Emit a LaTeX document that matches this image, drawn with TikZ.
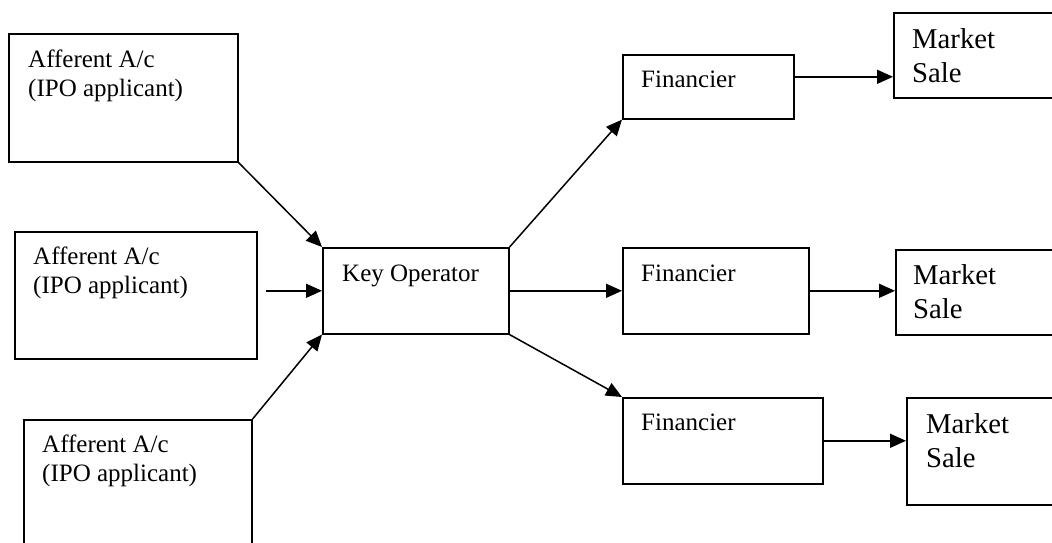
\documentclass[tikz,border=0pt]{standalone}
\usepackage{fontspec}
\setmainfont{Liberation Serif}
\usepackage{tikz}
\usetikzlibrary{arrows.meta,calc,positioning}

\begin{document}
\begin{tikzpicture}[x=1pt,y=-1pt,
    box/.style={draw,line width=1.6pt,inner sep=0pt,anchor=north west},
    txt/.style={inner sep=0pt,anchor=base west,align=left,font=\fontsize{25}{29}\selectfont},
    bigtxt/.style={inner sep=0pt,anchor=base west,align=left,font=\fontsize{28.7}{33.5}\selectfont},
    link/.style={line width=1.5pt,-{Triangle[length=16pt,width=14pt]}}]
\useasboundingbox (0,0) rectangle (1052,543);
\clip (0,0) rectangle (1052,543);
% applicants
\node[box,minimum width=229pt,minimum height=128pt] (a1) at (8,33) {};
\node[box,minimum width=242pt,minimum height=127pt] (a2) at (14,231) {};
\node[box,minimum width=228pt,minimum height=160pt] (a3) at (23,419) {};
\node[txt] (a1t) at ([shift={(20pt,-63pt)}]a1.north west) {Afferent A/c\\(IPO applicant)};
\node[txt] (a2t) at ([shift={(19pt,-62pt)}]a2.north west) {Afferent A/c\\(IPO applicant)};
\node[txt] (a3t) at ([shift={(19pt,-62pt)}]a3.north west) {Afferent A/c\\(IPO applicant)};
% key operator
\node[box,minimum width=186pt,minimum height=86pt] (key) at (322,247) {};
\node[txt] (keyt) at ([shift={(20pt,-34pt)}]key.north west) {Key Operator};
% financiers
\node[box,minimum width=171pt,minimum height=64pt] (f1) at (622,54) {};
\node[box,minimum width=186pt,minimum height=86pt] (f2) at (622,247) {};
\node[box,minimum width=200pt,minimum height=86pt] (f3) at (622,397) {};
\node[txt] (f1t) at ([shift={(19pt,-33pt)}]f1.north west) {Financier};
\node[txt] (f2t) at ([shift={(19pt,-34pt)}]f2.north west) {Financier};
\node[txt] (f3t) at ([shift={(19pt,-33pt)}]f3.north west) {Financier};
% market sale
\node[box,minimum width=200pt,minimum height=85pt] (m1) at (893,12) {};
\node[box,minimum width=200pt,minimum height=85pt] (m2) at (895,249) {};
\node[box,minimum width=200pt,minimum height=107pt] (m3) at (906,397) {};
\node[bigtxt] (m1t) at ([shift={(19pt,-70pt)}]m1.north west) {Market\\Sale};
\node[bigtxt] (m2t) at ([shift={(18pt,-69pt)}]m2.north west) {Market\\Sale};
\node[bigtxt] (m3t) at ([shift={(20pt,-70pt)}]m3.north west) {Market\\Sale};
% arrows
\coordinate (f1e) at ([yshift=10pt]f1.east);
\draw[link] (a1.south east) -- (key.north west);
\draw[link,shorten <=8pt] (a2.east |- key.west) -- (key.west);
\draw[link] (a3.north east) -- (key.south west);
\draw[link] (key.north east) -- (f1.south west);
\draw[link] (key.east) -- (f2.west);
\draw[link] (key.south east) -- (f3.north west);
\draw[link] (f1e) -- (f1e -| m1.west);
\draw[link] (f2.east) -- (f2.east -| m2.west);
\draw[link] (f3.east) -- (f3.east -| m3.west);
\end{tikzpicture}
\end{document}
